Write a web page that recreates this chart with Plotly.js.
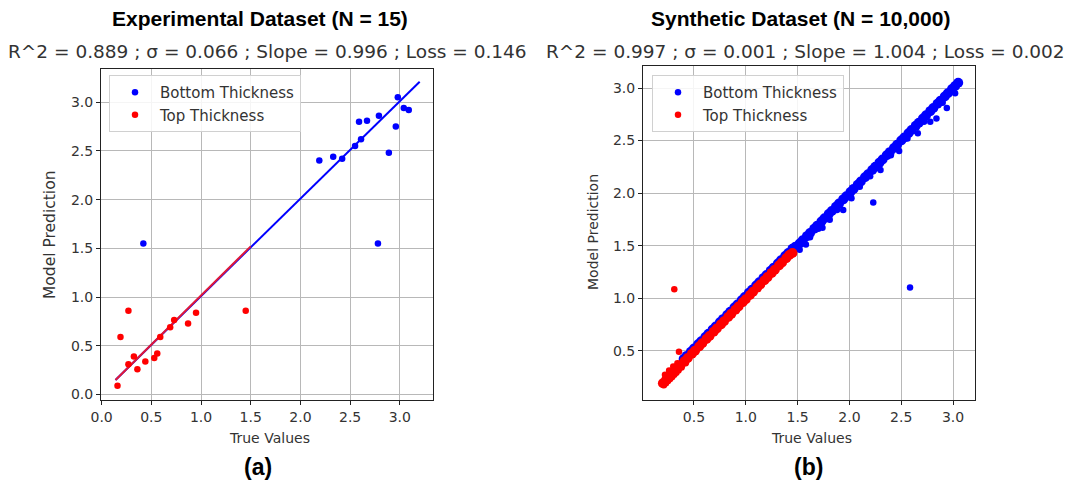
<!DOCTYPE html>
<html>
<head>
<meta charset="utf-8">
<script src="https://cdn.plot.ly/plotly-3.0.1.min.js"></script>
<style>html,body{margin:0;padding:0;background:#fff;}#chart{width:1068px;height:487px;}</style>
</head>
<body>
<div id="chart"></div>
<script>
// ---------- Data: Experimental dataset (N = 15) ----------
const expBottomTrue = [2.19, 2.33, 2.42, 2.55, 2.61, 2.59, 2.67, 2.79, 2.89, 2.96, 2.98, 3.04, 3.09, 0.42, 2.78];
const expBottomPred = [2.40, 2.44, 2.42, 2.55, 2.62, 2.80, 2.81, 2.86, 2.48, 2.75, 3.05, 2.94, 2.92, 1.55, 1.55];
const expTopTrue = [0.16, 0.19, 0.27, 0.27, 0.325, 0.36, 0.44, 0.53, 0.56, 0.59, 0.69, 0.73, 0.87, 0.95, 1.45];
const expTopPred = [0.09, 0.59, 0.86, 0.31, 0.39, 0.26, 0.34, 0.375, 0.42, 0.59, 0.69, 0.765, 0.73, 0.84, 0.86];
// fit lines (end points)
const expFitBottomX = [0.14, 3.20];
const expFitBottomY = [0.15, 3.21];
const expFitTopX = [0.14, 1.50];
const expFitTopY = [0.15, 1.52];

// ---------- Data: Synthetic dataset (N = 10,000), sampled along the dense band ----------
// core of the bottom-thickness band
const synBottomBandTrue = [
  0.40,0.43,0.47,0.50,0.54,0.57,0.61,0.64,0.68,0.71,0.75,0.78,0.82,0.85,0.89,0.92,0.96,0.99,1.03,1.06,
  1.10,1.13,1.17,1.20,1.24,1.27,1.31,1.34,1.38,1.41,1.45,1.48,1.52,1.55,1.59,1.62,1.66,1.69,1.73,1.76,
  1.80,1.83,1.87,1.90,1.94,1.97,2.01,2.04,2.08,2.11,2.15,2.18,2.22,2.25,2.29,2.32,2.36,2.39,2.43,2.46,
  2.50,2.53,2.57,2.60,2.64,2.67,2.71,2.74,2.78,2.81,2.85,2.88,2.92,2.95,2.99,3.02,3.05];
const synBottomBandPred = [
  0.42,0.45,0.49,0.52,0.56,0.59,0.63,0.66,0.70,0.73,0.77,0.80,0.84,0.87,0.91,0.94,0.98,1.01,1.05,1.08,
  1.12,1.15,1.19,1.22,1.26,1.29,1.33,1.36,1.40,1.43,1.47,1.49,1.52,1.55,1.59,1.62,1.66,1.69,1.73,1.76,
  1.80,1.83,1.87,1.90,1.94,1.97,2.01,2.04,2.08,2.11,2.15,2.18,2.22,2.25,2.29,2.32,2.36,2.39,2.43,2.46,
  2.50,2.53,2.57,2.60,2.64,2.67,2.71,2.74,2.78,2.81,2.85,2.88,2.92,2.95,2.99,3.02,3.05];
// scattered bottom-thickness points and outliers
const synBottomTrue = [1.52,1.58,1.62,1.70,1.74,1.81,1.88,1.94,2.02,2.10,2.20,2.30,2.40,2.48,2.56,2.66,2.72,2.78,2.84,2.90,2.94,3.02,2.23,2.585];
const synBottomPred = [1.46,1.51,1.58,1.66,1.67,1.745,1.84,1.84,1.95,2.06,2.16,2.22,2.36,2.40,2.52,2.57,2.68,2.68,2.71,2.86,2.81,2.95,1.91,1.10];
// core of the top-thickness band
const synTopBandTrue = [
  0.20,0.23,0.27,0.30,0.34,0.37,0.41,0.44,0.48,0.51,0.55,0.58,0.62,0.65,0.69,0.72,0.76,0.79,0.83,0.86,
  0.90,0.93,0.97,1.00,1.04,1.07,1.11,1.14,1.18,1.21,1.25,1.28,1.32,1.35,1.39,1.42,1.45];
const synTopBandPred = [
  0.19,0.22,0.26,0.29,0.33,0.36,0.40,0.43,0.47,0.50,0.54,0.57,0.61,0.64,0.68,0.71,0.75,0.78,0.82,0.85,
  0.89,0.92,0.96,0.99,1.03,1.06,1.10,1.13,1.17,1.20,1.24,1.27,1.31,1.34,1.38,1.41,1.43];
// scattered top-thickness points (wide low end) and outliers
const synTopTrue = [0.21,0.23,0.25,0.27,0.29,0.31,0.33,0.35,0.38,0.42,0.22,0.26,0.30,0.34,0.31,0.355];
const synTopPred = [0.17,0.19,0.21,0.23,0.25,0.27,0.29,0.31,0.34,0.38,0.27,0.31,0.35,0.38,1.085,0.49];

const xTicks = [0.0, 0.5, 1.0, 1.5, 2.0, 2.5, 3.0];
const yTicksLeft = [0.0, 0.5, 1.0, 1.5, 2.0, 2.5, 3.0];
const xTicksRight = [0.5, 1.0, 1.5, 2.0, 2.5, 3.0];
const yTicksRight = [0.5, 1.0, 1.5, 2.0, 2.5, 3.0];

const titleLeft = 'Experimental Dataset (N = 15)';
const subLeft = 'R^2 = 0.889 ; σ = 0.066 ; Slope = 0.996 ; Loss = 0.146';
const titleRight = 'Synthetic Dataset (N = 10,000)';
const subRight = 'R^2 = 0.997 ; σ = 0.001 ; Slope = 1.004 ; Loss = 0.002';

const BLUE = 'rgb(0,0,255)', RED = 'rgb(255,0,0)';
const W = 1068, H = 487;
const px = v => v / W, py = v => 1 - v / H;

const traces = [
  {x: expFitBottomX, y: expFitBottomY, mode: 'lines', line: {color: BLUE, width: 2}, showlegend: false, xaxis: 'x', yaxis: 'y', hoverinfo: 'skip'},
  {x: expFitTopX, y: expFitTopY, mode: 'lines', line: {color: 'rgb(225,25,55)', width: 2}, showlegend: false, xaxis: 'x', yaxis: 'y', hoverinfo: 'skip'},
  {x: expBottomTrue, y: expBottomPred, mode: 'markers', name: 'Bottom Thickness', marker: {color: BLUE, size: 6.5}, xaxis: 'x', yaxis: 'y', legend: 'legend'},
  {x: expTopTrue, y: expTopPred, mode: 'markers', name: 'Top Thickness', marker: {color: RED, size: 6.5}, xaxis: 'x', yaxis: 'y', legend: 'legend'},
  {x: synBottomBandTrue, y: synBottomBandPred, mode: 'markers', name: 'Bottom Thickness', legendgroup: 'sb', showlegend: false, marker: {color: BLUE, size: 10}, xaxis: 'x2', yaxis: 'y2', legend: 'legend2'},
  {x: synBottomTrue, y: synBottomPred, mode: 'markers', name: 'Bottom Thickness', legendgroup: 'sb', marker: {color: BLUE, size: 6.5}, xaxis: 'x2', yaxis: 'y2', legend: 'legend2'},
  {x: synTopBandTrue, y: synTopBandPred, mode: 'markers', name: 'Top Thickness', legendgroup: 'st', showlegend: false, marker: {color: RED, size: 10}, xaxis: 'x2', yaxis: 'y2', legend: 'legend2'},
  {x: synTopTrue, y: synTopPred, mode: 'markers', name: 'Top Thickness', legendgroup: 'st', marker: {color: RED, size: 6.5}, xaxis: 'x2', yaxis: 'y2', legend: 'legend2'}
];

const tickFont = {family: 'DejaVu Sans', size: 14, color: '#333'};
const axisBase = {
  showline: true, mirror: true, linecolor: '#222', linewidth: 1,
  showgrid: true, gridcolor: '#b8b8b8', gridwidth: 1, zeroline: false,
  ticks: 'outside', ticklen: 4, tickcolor: '#222', tickwidth: 1,
  tickfont: tickFont, tickformat: '.1f', automargin: false
};
const legendBase = {
  xanchor: 'left', yanchor: 'top', bgcolor: 'rgba(255,255,255,0.85)',
  bordercolor: '#d0d0d0', borderwidth: 1, itemwidth: 40, tracegroupgap: 0,
  font: {family: 'DejaVu Sans', size: 15, color: '#333'}
};

const annFontTitle = {family: 'Liberation Sans, Arial, sans-serif', size: 21, color: '#000'};
const annFontSub = {family: 'DejaVu Sans', size: 18.5, color: '#333'};
const annFontLab = {family: 'DejaVu Sans', size: 14, color: '#333'};
const annFontTag = {family: 'Liberation Sans, Arial, sans-serif', size: 23, color: '#000'};
function ann(text, x, y, font, extra) {
  return Object.assign({text: text, x: px(x), y: py(y), xref: 'paper', yref: 'paper', xanchor: 'center', yanchor: 'middle', showarrow: false, font: font}, extra || {});
}

const layout = {
  width: W, height: H,
  margin: {l: 0, r: 0, t: 0, b: 0},
  paper_bgcolor: '#fff', plot_bgcolor: '#fff',
  xaxis: Object.assign({}, axisBase, {domain: [px(101), px(433)], range: [-0.006, 3.334], tickvals: xTicks, anchor: 'y'}),
  yaxis: Object.assign({}, axisBase, {domain: [py(400), py(69)], range: [-0.056, 3.34], tickvals: yTicksLeft, anchor: 'x'}),
  xaxis2: Object.assign({}, axisBase, {domain: [px(643), px(975)], range: [0.008, 3.212], tickvals: xTicksRight, anchor: 'y2'}),
  yaxis2: Object.assign({}, axisBase, {domain: [py(400), py(66)], range: [0.03, 3.21], tickvals: yTicksRight, anchor: 'x2'}),
  legend: Object.assign({}, legendBase, {x: px(109), y: py(75)}),
  legend2: Object.assign({}, legendBase, {x: px(652), y: py(75)}),
  showlegend: true,
  annotations: [
    ann('<b>' + titleLeft + '</b>', 260, 19, annFontTitle),
    ann(subLeft, 267, 51, annFontSub),
    ann('<b>' + titleRight + '</b>', 800, 19, annFontTitle),
    ann(subRight, 805, 51, annFontSub),
    ann('True Values', 269, 438, annFontLab),
    ann('True Values', 811, 438, annFontLab),
    ann('Model Prediction', 50, 235, {family: 'DejaVu Sans', size: 15.5, color: '#333'}, {textangle: -90}),
    ann('Model Prediction', 593, 232, annFontLab, {textangle: -90}),
    ann('<b>(a)</b>', 258, 467, annFontTag),
    ann('<b>(b)</b>', 808, 467, annFontTag)
  ]
};

Plotly.newPlot('chart', traces, layout, {staticPlot: true, displayModeBar: false});
</script>
</body>
</html>
